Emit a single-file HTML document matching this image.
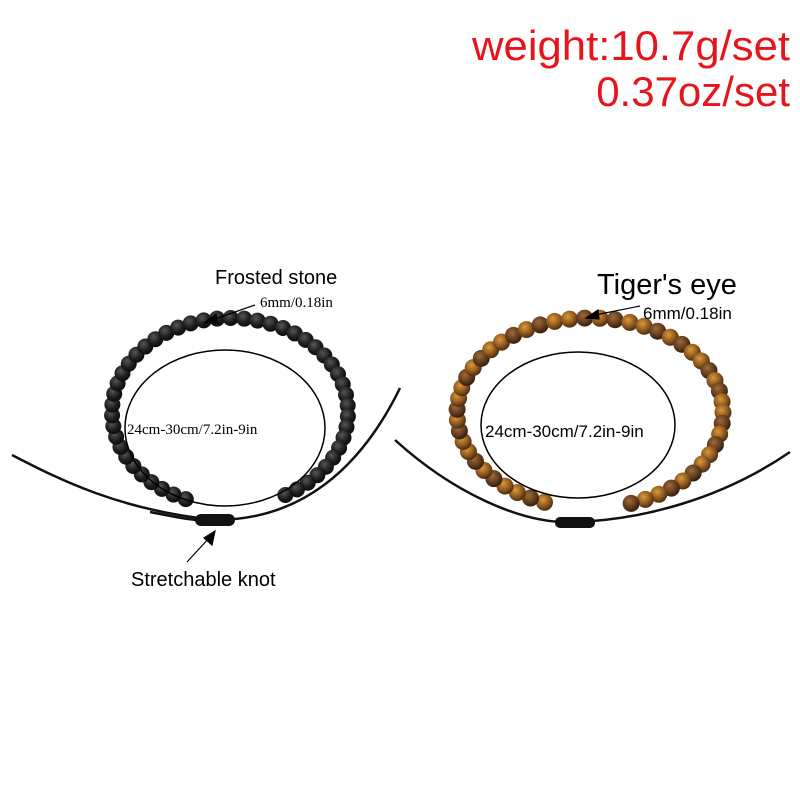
<!DOCTYPE html>
<html><head><meta charset="utf-8"><style>
body{margin:0;background:#fff;}
svg{display:block}
</style></head><body>
<svg id="s" width="800" height="800" xmlns="http://www.w3.org/2000/svg" font-family="Liberation Sans, DejaVu Sans, sans-serif">
<defs>
<radialGradient id="bk" cx="0.4" cy="0.35" r="0.7"><stop offset="0" stop-color="#555"/><stop offset="0.6" stop-color="#1c1c1c"/><stop offset="1" stop-color="#0a0a0a"/></radialGradient>
<radialGradient id="br1" cx="0.4" cy="0.35" r="0.7"><stop offset="0" stop-color="#d89a3a"/><stop offset="0.6" stop-color="#8a531c"/><stop offset="1" stop-color="#3d2410"/></radialGradient>
<radialGradient id="br2" cx="0.4" cy="0.35" r="0.7"><stop offset="0" stop-color="#a06a3a"/><stop offset="0.6" stop-color="#5e3a1c"/><stop offset="1" stop-color="#2a180c"/></radialGradient>
</defs>
<rect width="800" height="800" fill="#fff"/>
<text x="790" y="60" text-anchor="end" font-size="42" fill="#e8141c" textLength="318" lengthAdjust="spacingAndGlyphs">weight:10.7g/set</text>
<text x="790" y="106" text-anchor="end" font-size="42" fill="#e8141c">0.37oz/set</text>
<g fill="none" stroke="#111" stroke-width="2.5">
<path d="M12,455 C60,480 120,510 215,520 C300,520 360,470 400,388"/>
<path d="M150,512 C180,518 200,522 215,520"/>
<path d="M395,440 C450,490 520,525 575,522 C640,520 720,500 790,452"/>
</g>
<g id="beads"></g>
<g fill="#111"><rect x="195" y="514" width="40" height="12" rx="6"/><rect x="555" y="517" width="40" height="11" rx="5"/></g>
<ellipse cx="225" cy="428" rx="100" ry="78" fill="none" stroke="#000" stroke-width="1.5"/>
<ellipse cx="578" cy="425" rx="97" ry="73" fill="none" stroke="#000" stroke-width="1.5"/>
<text x="127" y="434" font-size="15" font-family="Liberation Serif, serif">24cm-30cm/7.2in-9in</text>
<text x="485" y="437" font-size="17">24cm-30cm/7.2in-9in</text>
<text x="215" y="284" font-size="20">Frosted stone</text>
<text x="260" y="307" font-size="15" font-family="Liberation Serif, serif">6mm/0.18in</text>
<text x="597" y="294" font-size="29">Tiger's eye</text>
<text x="643" y="319" font-size="17">6mm/0.18in</text>
<text x="131" y="586" font-size="20">Stretchable knot</text>
<g stroke="#000" stroke-width="1.2" fill="#000">
<line x1="255" y1="305" x2="212" y2="320"/><polygon points="204,323 216,314 218,323"/>
<line x1="640" y1="306" x2="595" y2="315"/><polygon points="586,318 598,310 599,319"/>
<line x1="187" y1="562" x2="210" y2="537"/><polygon points="215,531 212,545 204,538"/>
</g>
</svg>
<script>
var g=document.getElementById('beads'),ns='http://www.w3.org/2000/svg';
function ring(cx,cy,rx,ry,t0,t1,n,r,fills){
 for(var i=0;i<n;i++){var t=(t0+(t1-t0)*i/(n-1))*Math.PI/180;
 var c=document.createElementNS(ns,'circle');
 c.setAttribute('cx',cx+rx*Math.cos(t));c.setAttribute('cy',cy+ry*Math.sin(t));
 c.setAttribute('r',r);c.setAttribute('fill',fills[i%fills.length]);g.appendChild(c);}
}
ring(230,412,118,94,112,422,48,8,['url(#bk)']);
ring(590,413,133,95,110,432,50,8.5,['url(#br1)','url(#br2)','url(#br1)','url(#br1)','url(#br2)']);
</script>
</body></html>
